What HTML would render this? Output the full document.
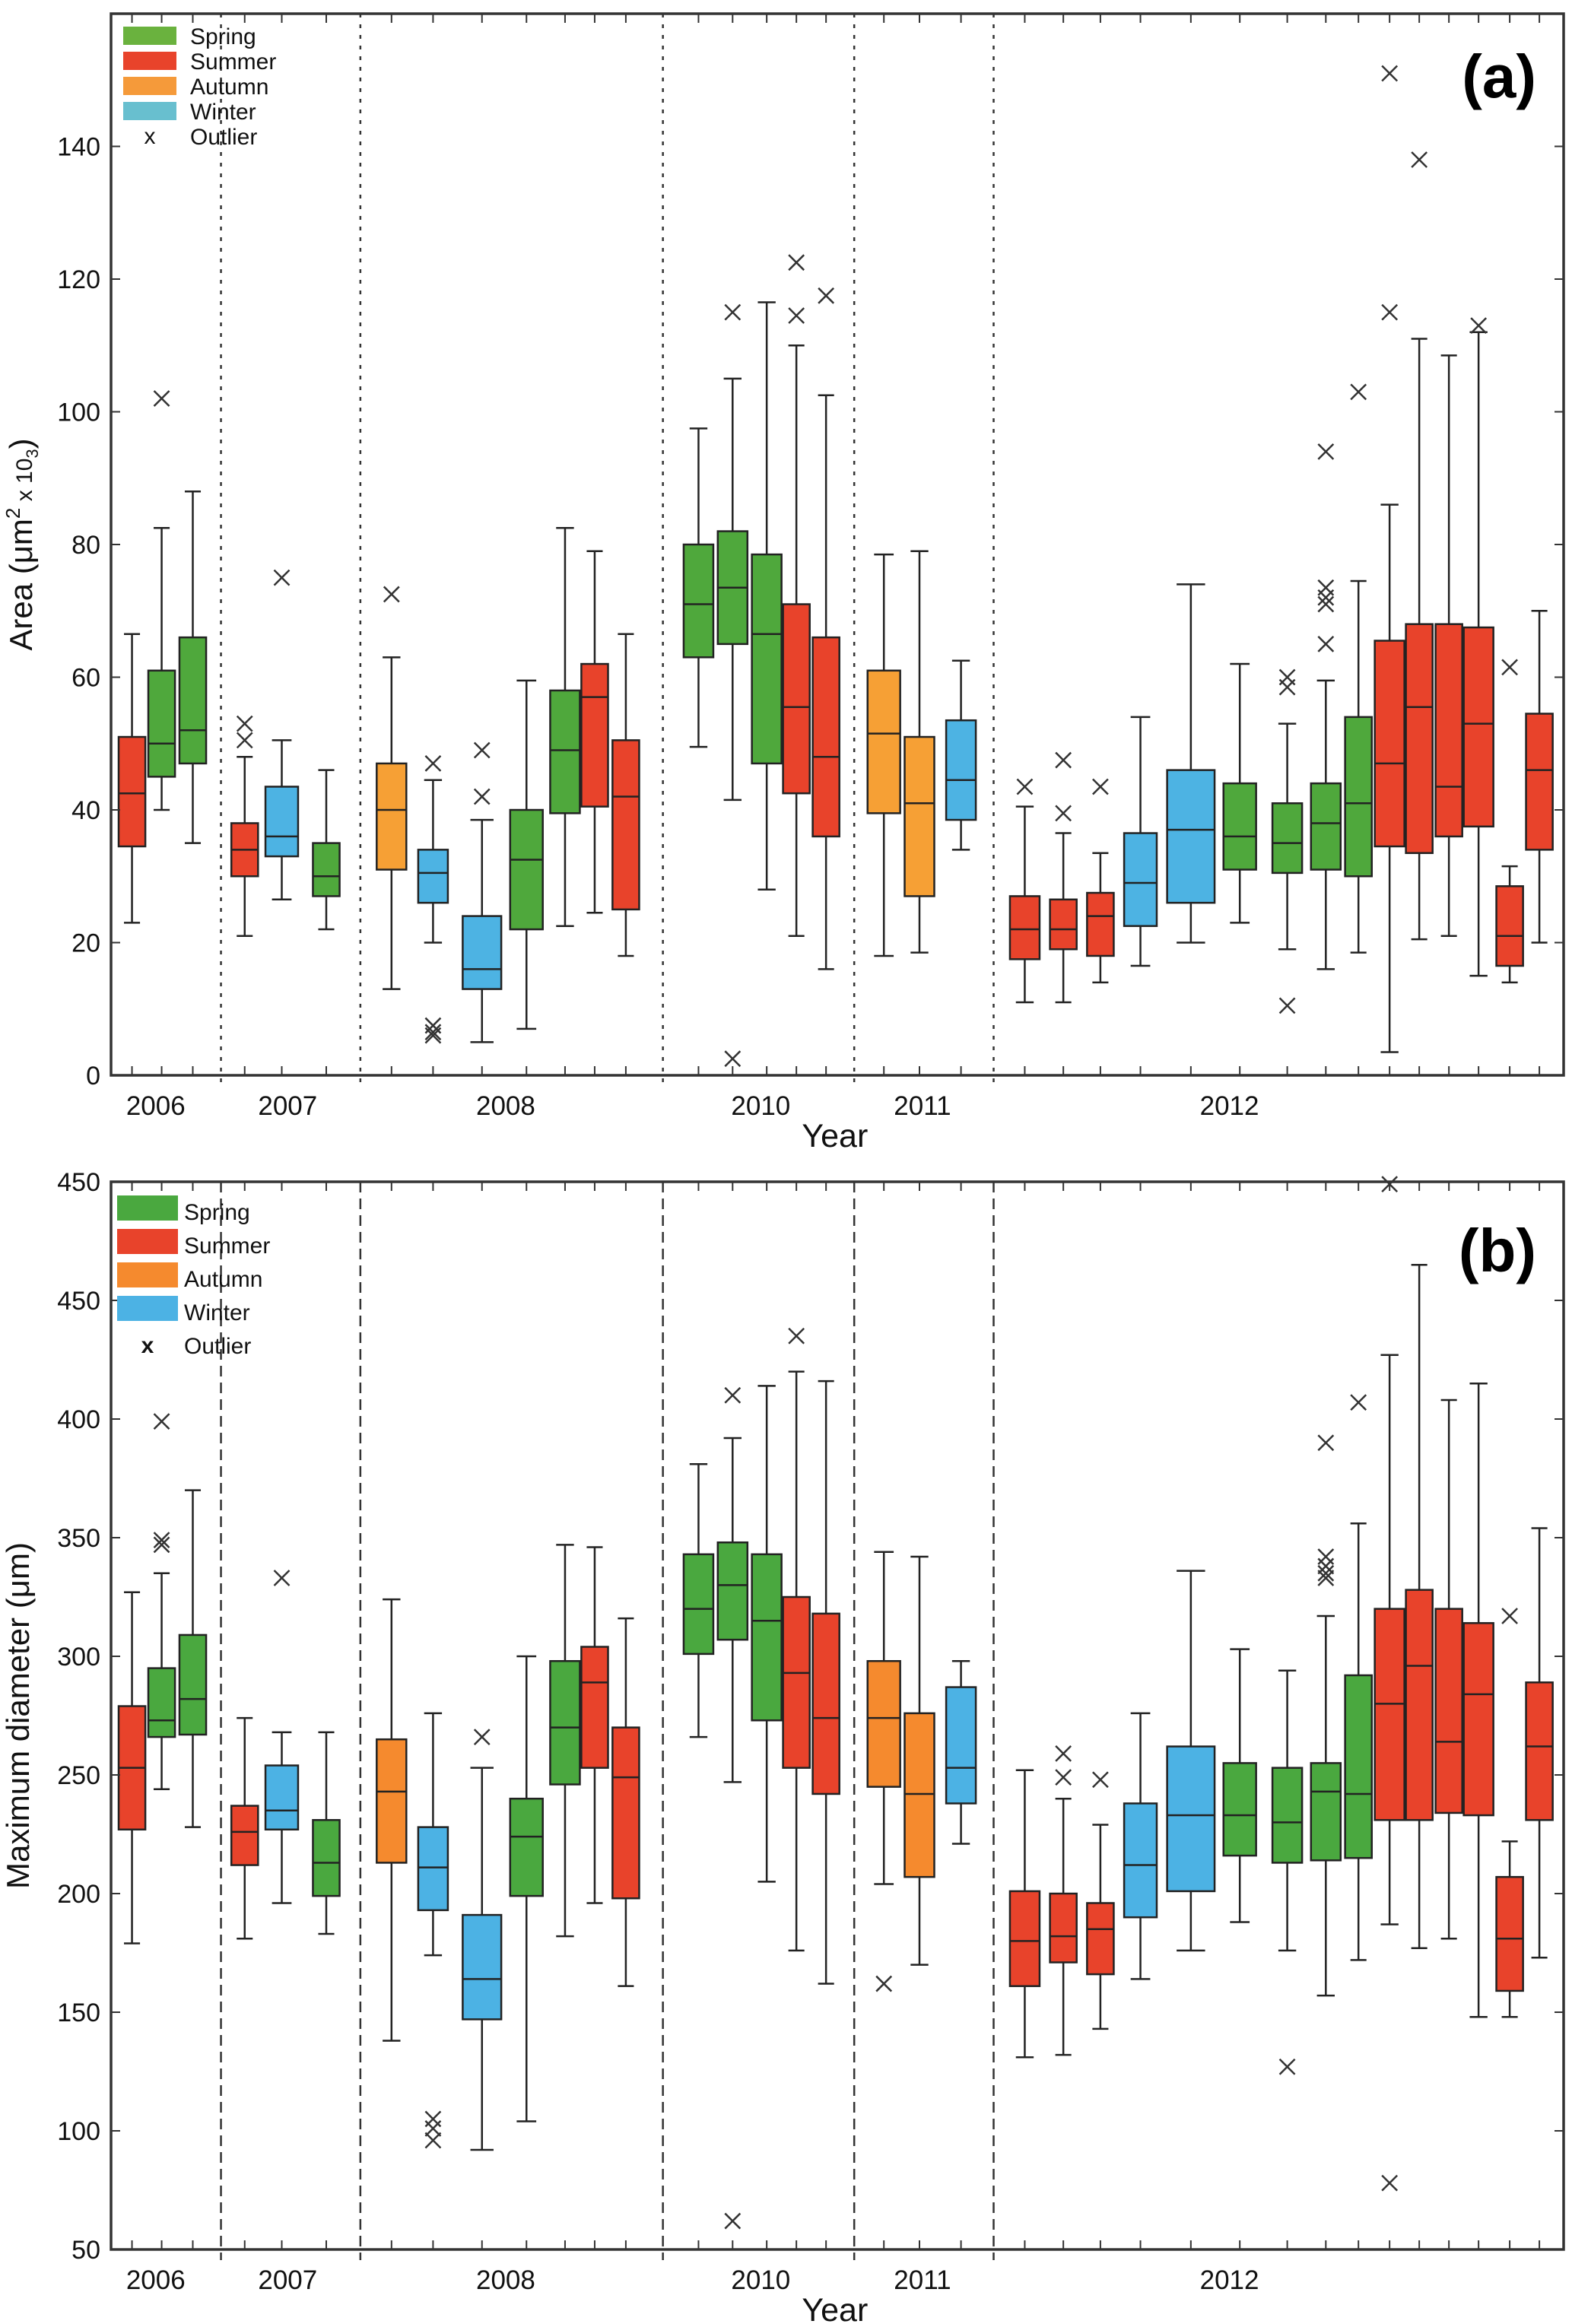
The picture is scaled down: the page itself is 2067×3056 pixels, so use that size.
<!DOCTYPE html>
<html><head><meta charset="utf-8">
<style>
html,body{margin:0;padding:0;background:#fff;}
svg{display:block;font-family:"Liberation Sans",Arial,sans-serif;}
</style></head>
<body>
<svg id="chart" width="2067" height="3056" viewBox="0 0 2067 3056" xmlns="http://www.w3.org/2000/svg"></svg>
<script>
// ---- data ----
const boxX = [89,109,130,165,190,220,264,292,325,355,381,401,422,471,494,517,537,557,596,620,648,691,717,742,769,803,836,868,894,916,937,957,977,997,1018,1038];
const boxW = [18,18,18,18,22,18,20,20,26,22,20,18,18,20,20,20,18,18,22,20,20,20,18,18,22,32,22,20,20,18,20,18,18,20,18,18];
const seasons = ["summer","spring","spring","summer","winter","spring","autumn","winter","winter","spring","spring","summer","summer","spring","spring","spring","summer","summer","autumn","autumn","winter","summer","summer","summer","winter","winter","spring","spring","spring","spring","summer","summer","summer","summer","summer","summer"];
const areaStats = [
[23,34.5,42.5,51,66.5],[40,45,50,61,82.5],[35,47,52,66,88],[21,30,34,38,48],[26.5,33,36,43.5,50.5],[22,27,30,35,46],
[13,31,40,47,63],[20,26,30.5,34,44.5],[5,13,16,24,38.5],[7,22,32.5,40,59.5],[22.5,39.5,49,58,82.5],[24.5,40.5,57,62,79],[18,25,42,50.5,66.5],
[49.5,63,71,80,97.5],[41.5,65,73.5,82,105],[28,47,66.5,78.5,116.5],[21,42.5,55.5,71,110],[16,36,48,66,102.5],
[18,39.5,51.5,61,78.5],[18.5,27,41,51,79],[34,38.5,44.5,53.5,62.5],
[11,17.5,22,27,40.5],[11,19,22,26.5,36.5],[14,18,24,27.5,33.5],[16.5,22.5,29,36.5,54],[20,26,37,46,74],[23,31,36,44,62],[19,30.5,35,41,53],[16,31,38,44,59.5],[18.5,30,41,54,74.5],[3.5,34.5,47,65.5,86],[20.5,33.5,55.5,68,111],[21,36,43.5,68,108.5],[15,37.5,53,67.5,112],[14,16.5,21,28.5,31.5],[20,34,46,54.5,70]];
const areaOutliers = [[],[102],[],[50.5,53],[75],[],[72.5],[47,7.5,6.5,6],[42,49],[],[],[],[],[],[115,2.5],[],[114.5,122.5],[117.5],[],[],[],[43.5],[39.5,47.5],[43.5],[],[],[],[58.5,60,10.5],[65,71,72,73.5,94],[103],[115,151],[138],[],[113],[61.5],[]];
const diamStats = [
[179,227,253,279,327],[244,266,273,295,335],[228,267,282,309,370],[181,212,226,237,274],[196,227,235,254,268],[183,199,213,231,268],
[138,213,243,265,324],[174,193,211,228,276],[92,147,164,191,253],[104,199,224,240,300],[182,246,270,298,347],[196,253,289,304,346],[161,198,249,270,316],
[266,301,320,343,381],[247,307,330,348,392],[205,273,315,343,414],[176,253,293,325,420],[162,242,274,318,416],
[204,245,274,298,344],[170,207,242,276,342],[221,238,253,287,298],
[131,161,180,201,252],[132,171,182,200,240],[143,166,185,196,229],[164,190,212,238,276],[176,201,233,262,336],[188,216,233,255,303],[176,213,230,253,294],[157,214,243,255,317],[172,215,242,292,356],[187,231,280,320,427],[177,231,296,328,465],[181,234,264,320,408],[148,233,284,314,415],[148,159,181,207,222],[173,231,262,289,354]];
const diamOutliers = [[],[347,349,399],[],[],[333],[],[],[105,101,96],[266],[],[],[],[],[],[410,62],[],[435],[],[162],[],[],[],[249,259],[248],[],[],[],[127],[333,335,338,342,390],[407],[78,499],[],[],[],[317],[]];
const dividers = [149,243,447,576,670];
const years = ["2006","2007","2008","2010","2011","2012"];
const yearX = [105,194,341,513,622,829];
const areaTicks = [0,20,40,60,80,100,120,140];
const diamTicks = [50,100,150,200,250,300,350,400,450,500];
const diamTickLabels = ["50","100","150","200","250","300","350","400","450","450"];

const NS="http://www.w3.org/2000/svg";
const svg=document.getElementById('chart');
function el(tag,attrs,parent,text){const e=document.createElementNS(NS,tag);for(const k in attrs)e.setAttribute(k,attrs[k]);if(text!==undefined)e.textContent=text;(parent||svg).appendChild(e);return e;}
const S=1.95;
const colA={spring:"#4fa83c",summer:"#e8432b",autumn:"#f6a035",winter:"#4db3e3"};
const colB={spring:"#4aa83f",summer:"#e8432b",autumn:"#f58a2e",winter:"#4cb2e4"};

function panel(cfg){
  const L=146,R=2056,T=cfg.top,B=cfg.bottom;
  const y=v=>B-(v-cfg.min)/(cfg.max-cfg.min)*(B-T);
  const xs=t=>t*S;
  const g=el('g',{});
  
  
  // dividers
  dividers.forEach(d=>{const ln=el('line',{x1:xs(d),x2:xs(d),y1:T,y2:B+14,stroke:'#333','stroke-width':2.5,'stroke-dasharray':cfg.dash},g);
    });
  // boxes
  cfg.stats.forEach((s,i)=>{
    const cx=xs(boxX[i]),w=boxW[i]*S,hw=w/2,cw=w*0.3;
    const bg=el('g',{},g);
    
    
    el('line',{x1:cx,x2:cx,y1:y(s[0]),y2:y(s[4]),stroke:'#222','stroke-width':2.5},bg);
    el('line',{x1:cx-cw,x2:cx+cw,y1:y(s[0]),y2:y(s[0]),stroke:'#222','stroke-width':2.5},bg);
    el('line',{x1:cx-cw,x2:cx+cw,y1:y(s[4]),y2:y(s[4]),stroke:'#222','stroke-width':2.5},bg);
    el('rect',{x:cx-hw,y:y(s[3]),width:w,height:y(s[1])-y(s[3]),fill:cfg.col[seasons[i]],stroke:'#222','stroke-width':2.5},bg);
    el('line',{x1:cx-hw,x2:cx+hw,y1:y(s[2]),y2:y(s[2]),stroke:'#222','stroke-width':2.5},bg);
    cfg.out[i].forEach(o=>{const oy=y(o),r=10;
      const og=el('g',{},bg);
      
      el('line',{x1:cx-r,x2:cx+r,y1:oy-r,y2:oy+r,stroke:'#333','stroke-width':2.5},og);
      el('line',{x1:cx-r,x2:cx+r,y1:oy+r,y2:oy-r,stroke:'#333','stroke-width':2.5},og);});
    // x ticks
    el('line',{x1:cx,x2:cx,y1:T,y2:T+12,stroke:'#333','stroke-width':2},g);
    el('line',{x1:cx,x2:cx,y1:B,y2:B-12,stroke:'#333','stroke-width':2},g);
  });
  // frame
  const fr=el('rect',{x:L,y:T,width:R-L,height:B-T,fill:'none',stroke:'#333','stroke-width':3.5},g);
  
  // y ticks
  cfg.ticks.forEach((t,i)=>{const ty=y(t);
    el('line',{x1:L,x2:L+12,y1:ty,y2:ty,stroke:'#333','stroke-width':2},g);
    el('line',{x1:R,x2:R-12,y1:ty,y2:ty,stroke:'#333','stroke-width':2},g);
    const tl=el('text',{x:L-14,y:ty+12,'text-anchor':'end','font-size':34,fill:'#111'},g,cfg.tickLabels[i]);
    });
  // year labels
  years.forEach((yr,i)=>{const t=el('text',{x:xs(yearX[i]),y:cfg.yearY,'text-anchor':'middle','font-size':35,fill:'#111'},g,yr);
    });
  const xt=el('text',{x:xs(563),y:cfg.yearY+42,'text-anchor':'middle','font-size':43,fill:'#111'},g,'Year');
  
  const yt=el('text',{x:0,y:0,'text-anchor':'middle','font-size':42,fill:'#111',transform:`translate(${cfg.ytX},${(T+B)/2}) rotate(-90)`},g);
  
  yt.innerHTML=cfg.ytitle;
  const pl=el('text',{x:2020,y:cfg.labelY,'text-anchor':'end','font-size':80,'font-weight':'bold',fill:'#000'},g,cfg.label);
  
  // legend
  const lg=el('g',{},g);
  
  ["Spring","Summer","Autumn","Winter"].forEach((n,i)=>{
    const ry=cfg.legY+i*cfg.legStep;
    const r=el('rect',{x:cfg.legX,y:ry,width:cfg.swW,height:cfg.swH,fill:cfg.legCol[i]},lg);
    
    const t=el('text',{x:cfg.legTX,y:ry+cfg.swH-1,'font-size':cfg.legFS,fill:'#111'},lg,n);
    
  });
  const oy=cfg.legY+4*cfg.legStep;
  el('text',{x:cfg.legX+cfg.swW/2,y:oy+cfg.swH-2,'text-anchor':'middle','font-size':cfg.legFS,'font-weight':cfg.xbold,fill:'#111'},lg,'x');
  const ot=el('text',{x:cfg.legTX,y:oy+cfg.swH-1,'font-size':cfg.legFS,fill:'#111'},lg,'Outlier');
  
}
panel({name:'panel-a-area',top:18,bottom:1414,min:0,max:160,stats:areaStats,out:areaOutliers,col:colA,dash:'5 9',
  ticks:areaTicks,tickLabels:areaTicks.map(String),yearY:1466,ytX:42,label:'(a)',labelY:128,
  ytitle:'Area (μm<tspan dy="-16" font-size="26">2</tspan><tspan dy="16" font-size="30"> x 10</tspan><tspan dy="8" font-size="22">3</tspan><tspan dy="-8">)</tspan>',
  legX:162,legY:35,legStep:33,swW:70,swH:24,legTX:250,legFS:30,xbold:'normal',
  legCol:["#6ab23e","#e8432b","#f59a3a","#68bfcf"]});
panel({name:'panel-b-max-diameter',top:1554,bottom:2958,min:50,max:500,stats:diamStats,out:diamOutliers,col:colB,dash:'14 8',
  ticks:diamTicks,tickLabels:diamTickLabels,yearY:3010,ytX:38,label:'(b)',labelY:1672,
  ytitle:'Maximum diameter (μm)',
  legX:154,legY:1572,legStep:44,swW:80,swH:33,legTX:242,legFS:30,xbold:'bold',
  legCol:["#4aa83f","#e8432b","#f58a2e","#4cb2e4"]});
</script>
</body></html>
